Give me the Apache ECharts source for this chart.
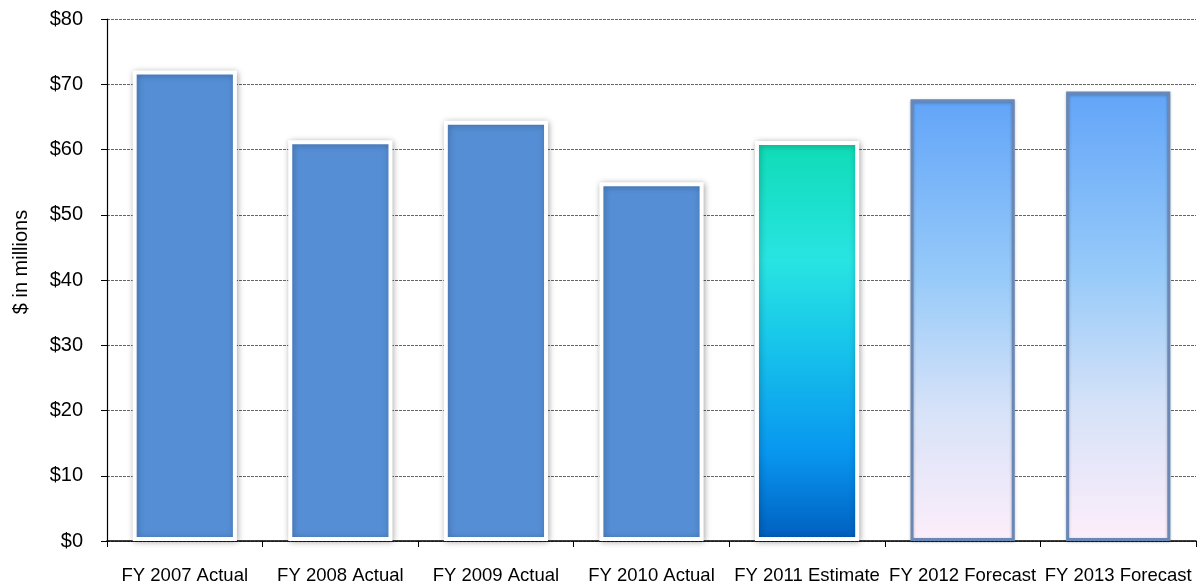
<!DOCTYPE html>
<html>
<head>
<meta charset="utf-8">
<script src="https://cdn.jsdelivr.net/npm/echarts@6/dist/echarts.min.js"></script>
<style>
html,body{margin:0;padding:0;background:#fff;}
#chart{width:1200px;height:585px;}
</style>
</head>
<body>
<div id="chart"></div>
<script>
const categories = ['FY 2007 Actual','FY 2008 Actual','FY 2009 Actual','FY 2010 Actual','FY 2011 Estimate','FY 2012 Forecast','FY 2013 Forecast'];
const values = [72.1, 61.4, 64.4, 55.0, 61.3, 67.7, 68.9];
const yTickLabels = ['$0','$10','$20','$30','$40','$50','$60','$70','$80'];
const yAxisTitle = '$ in millions';

const G = echarts.graphic.LinearGradient;
const actualStyle = {
  color: '#558ED5', borderColor: '#ffffff', borderWidth: 4,
  shadowBlur: 6, shadowColor: 'rgba(0,0,0,0.28)', shadowOffsetX: 1, shadowOffsetY: 1
};
const estimateStyle = {
  color: new G(0,0,0,1,[
    {offset:0,color:'#0FDCB6'},
    {offset:0.3,color:'#28E4E2'},
    {offset:0.5,color:'#18C6EA'},
    {offset:0.78,color:'#0896F0'},
    {offset:1,color:'#005EBE'}
  ]),
  borderColor: '#ffffff', borderWidth: 4,
  shadowBlur: 6, shadowColor: 'rgba(0,0,0,0.3)', shadowOffsetX: 1, shadowOffsetY: 1
};
const forecastStyle = {
  color: new G(0,0,0,1,[
    {offset:0,color:'#62A4F8'},
    {offset:0.4,color:'#96CAF9'},
    {offset:0.7,color:'#D6E2F8'},
    {offset:1,color:'#FDEEFA'}
  ]),
  borderColor: '#6A88B6', borderWidth: 3,
  shadowBlur: 3, shadowColor: 'rgba(0,0,0,0.25)', shadowOffsetX: 0, shadowOffsetY: 1
};
const styleFor = i => i < 4 ? actualStyle : (i === 4 ? estimateStyle : forecastStyle);

const chart = echarts.init(document.getElementById('chart'), null, {renderer:'canvas'});
const font = 'Liberation Sans, Arial, sans-serif';
chart.setOption({
  animation: false,
  backgroundColor: '#ffffff',
  grid: {left: 107, right: 4, top: 19, bottom: 44, containLabel: false},
  xAxis: {
    type: 'category',
    data: categories,
    axisLine: {lineStyle: {color: '#000', width: 1.5}},
    axisTick: {show: true, length: 6, lineStyle: {color: '#000'}},
    axisLabel: {color: '#000', fontSize: 18.5, fontFamily: font, margin: 25, interval: 0},
    splitLine: {show: false}
  },
  yAxis: {
    type: 'value',
    min: 0, max: 80, interval: 10,
    axisLine: {show: true, lineStyle: {color: '#000', width: 1.2}},
    axisTick: {show: true, inside: false, length: 6, lineStyle: {color: '#000'}},
    axisLabel: {color: '#000', fontSize: 20, fontFamily: font, margin: 24,
      formatter: v => yTickLabels[Math.round(v / 10)]},
    splitLine: {show: true, lineStyle: {color: '#666', type: [3, 1], width: 1}}
  },
  graphic: [{
    type: 'text',
    x: 21, y: 262,
    rotation: Math.PI / 2,
    style: {text: yAxisTitle, fill: '#000', font: '20px ' + font, textAlign: 'center', textVerticalAlign: 'middle'}
  }],
  series: [{
    type: 'bar',
    barWidth: '67%',
    data: values.map((v, i) => ({value: v, itemStyle: styleFor(i)}))
  }]
});
</script>
</body>
</html>
